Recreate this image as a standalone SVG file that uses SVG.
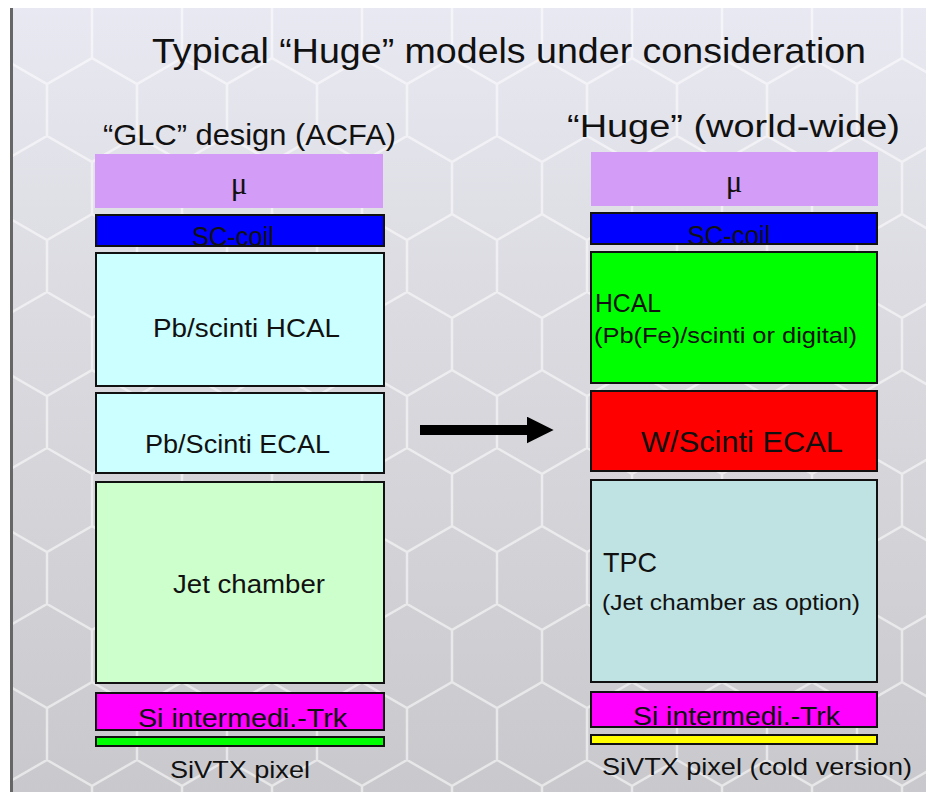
<svg xmlns="http://www.w3.org/2000/svg" width="926" height="792" viewBox="0 0 926 792">
  <defs>
    <linearGradient id="bg" x1="0" y1="0" x2="0" y2="1">
      <stop offset="0" stop-color="#e9e9f3"/>
      <stop offset="0.35" stop-color="#dcdce2"/>
      <stop offset="1" stop-color="#c9c9cd"/>
    </linearGradient>
    <!-- honeycomb texture -->
    <pattern id="hex" width="90" height="156" patternUnits="userSpaceOnUse" x="2" y="-20">
      <path d="M45,0 L90,26 L90,78 L45,104 L0,78 L0,26 Z M45,104 L45,156" fill="none" stroke="#ffffff" stroke-width="2.5" stroke-opacity="0.55"/>
    </pattern>
    <marker id="head" viewBox="0 0 10 10" refX="0.5" refY="5" markerWidth="2.7" markerHeight="2.7" orient="auto" markerUnits="strokeWidth">
      <path d="M0,0 L10,5 L0,10 Z" fill="#000"/>
    </marker>
    <clipPath id="clipL1"><rect x="97" y="216" width="286" height="29"/></clipPath>
    <clipPath id="clipR1"><rect x="592" y="214" width="284" height="29"/></clipPath>
    <clipPath id="clipL2"><rect x="97" y="694" width="286" height="35"/></clipPath>
    <clipPath id="clipR2"><rect x="592" y="693" width="284" height="33"/></clipPath>
  </defs>
  <style>
    .t { font-family: "Liberation Sans", "DejaVu Sans", sans-serif; fill: #111; }
    .mu-t { font-family: "Liberation Serif", "DejaVu Serif", serif; fill: #111; }
    .box { stroke: #111; stroke-width: 2; }
    .mu { fill: #d29cf7; }
  </style>

  <!-- background -->
  <rect x="0" y="0" width="926" height="792" fill="url(#bg)"/>
  <rect x="0" y="0" width="926" height="792" fill="url(#hex)"/>
  <rect x="0" y="0" width="926" height="8" fill="#ffffff"/>
  <rect x="0" y="0" width="10" height="792" fill="#ffffff"/>
  <rect x="10" y="8" width="3" height="784" fill="#666666"/>

  <!-- headings -->
  <text class="t" x="152" y="63" font-size="35" textLength="714" lengthAdjust="spacingAndGlyphs">Typical “Huge” models under consideration</text>
  <text class="t" x="103" y="145" font-size="29" textLength="293" lengthAdjust="spacingAndGlyphs">“GLC” design (ACFA)</text>
  <text class="t" x="567" y="137" font-size="31" textLength="333" lengthAdjust="spacingAndGlyphs">“Huge” (world-wide)</text>

  <!-- GLC design stack -->
  <g id="glc-muon">
    <rect class="mu" x="95" y="154" width="288" height="54"/>
    <text class="mu-t" x="239" y="194" font-size="31" text-anchor="middle">μ</text>
  </g>
  <g id="glc-coil">
    <rect class="box" x="96" y="215" width="288" height="31" fill="#0000ff"/>
    <text class="t" x="233" y="246" font-size="27" text-anchor="middle" fill="#000033" clip-path="url(#clipL1)" textLength="82" lengthAdjust="spacingAndGlyphs">SC-coil</text>
  </g>
  <g id="glc-hcal">
    <rect class="box" x="96" y="253" width="288" height="133" fill="#ccffff"/>
    <text class="t" x="153" y="337" font-size="25" textLength="187" lengthAdjust="spacingAndGlyphs">Pb/scinti HCAL</text>
  </g>
  <g id="glc-ecal">
    <rect class="box" x="96" y="393" width="288" height="80" fill="#ccffff"/>
    <text class="t" x="145" y="453" font-size="25" textLength="185" lengthAdjust="spacingAndGlyphs">Pb/Scinti ECAL</text>
  </g>
  <g id="glc-jet">
    <rect class="box" x="96" y="482" width="288" height="201" fill="#ccffcc"/>
    <text class="t" x="173" y="593" font-size="25" textLength="152" lengthAdjust="spacingAndGlyphs">Jet chamber</text>
  </g>
  <g id="glc-sitrk">
    <rect class="box" x="96" y="693" width="288" height="37" fill="#ff00ff"/>
    <text class="t" x="138" y="727" font-size="26" fill="#330033" clip-path="url(#clipL2)" textLength="209" lengthAdjust="spacingAndGlyphs">Si intermedi.-Trk</text>
  </g>
  <g id="glc-vtx">
    <rect class="box" x="96" y="737" width="288" height="9" fill="#00ff00"/>
    <text class="t" x="170" y="778" font-size="24" fill="#2a2a2a" textLength="140" lengthAdjust="spacingAndGlyphs">SiVTX pixel</text>
  </g>

  <!-- Huge design stack -->
  <g id="huge-muon">
    <rect class="mu" x="591" y="152" width="287" height="54"/>
    <text class="mu-t" x="734" y="192" font-size="31" text-anchor="middle">μ</text>
  </g>
  <g id="huge-coil">
    <rect class="box" x="591" y="213" width="286" height="31" fill="#0000ff"/>
    <text class="t" x="729" y="245" font-size="27" text-anchor="middle" fill="#000033" clip-path="url(#clipR1)" textLength="83" lengthAdjust="spacingAndGlyphs">SC-coil</text>
  </g>
  <g id="huge-hcal">
    <rect class="box" x="591" y="252" width="286" height="131" fill="#00ff00"/>
    <text class="t" x="595" y="312" font-size="25" textLength="66" lengthAdjust="spacingAndGlyphs">HCAL</text>
    <text class="t" x="594" y="343" font-size="22" textLength="263" lengthAdjust="spacingAndGlyphs">(Pb(Fe)/scinti or digital)</text>
  </g>
  <g id="huge-ecal">
    <rect class="box" x="591" y="391" width="286" height="80" fill="#ff0000"/>
    <text class="t" x="641" y="452" font-size="30" textLength="202" lengthAdjust="spacingAndGlyphs">W/Scinti ECAL</text>
  </g>
  <g id="huge-tpc">
    <rect class="box" x="591" y="480" width="286" height="202" fill="#bfe3e3"/>
    <text class="t" x="603" y="572" font-size="28" textLength="54" lengthAdjust="spacingAndGlyphs">TPC</text>
    <text class="t" x="602" y="610" font-size="22" textLength="258" lengthAdjust="spacingAndGlyphs">(Jet chamber as option)</text>
  </g>
  <g id="huge-sitrk">
    <rect class="box" x="591" y="692" width="286" height="35" fill="#ff00ff"/>
    <text class="t" x="633" y="725" font-size="26" fill="#330033" clip-path="url(#clipR2)" textLength="207" lengthAdjust="spacingAndGlyphs">Si intermedi.-Trk</text>
  </g>
  <g id="huge-vtx">
    <rect class="box" x="591" y="735" width="286" height="9" fill="#ffff00"/>
    <text class="t" x="602" y="775" font-size="24" fill="#2a2a2a" textLength="310" lengthAdjust="spacingAndGlyphs">SiVTX pixel (cold version)</text>
  </g>

  <!-- connector -->
  <g id="connectors">
    <line x1="420" y1="430" x2="528" y2="430" stroke="#000" stroke-width="10" marker-end="url(#head)"/>
  </g>
</svg>
